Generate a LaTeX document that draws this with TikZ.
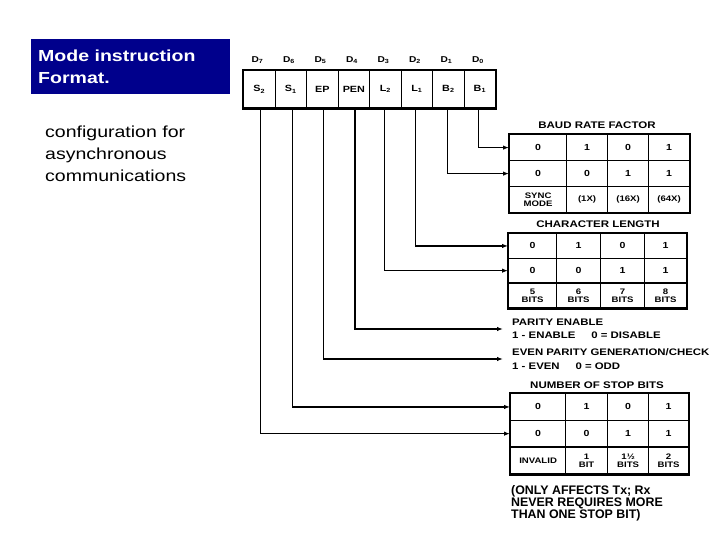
\documentclass[tikz,border=0pt]{standalone}
\usepackage{fontspec}
\setmainfont{Liberation Sans}
\newfontfamily\tabfont[FakeStretch=1.2]{Liberation Sans}
\newfontfamily\widefont[FakeStretch=1.22]{Liberation Sans}
\usetikzlibrary{arrows.meta}
\definecolor{navybox}{RGB}{0,0,140}
\begin{document}
\begin{tikzpicture}[x=1pt,y=-1pt,
  cell/.style={draw, line width=1.2pt, inner sep=0pt, anchor=north west, align=center,
    font=\tabfont\bfseries\fontsize{8.8}{9}\selectfont},
  lastrow/.style={font=\tabfont\bfseries\fontsize{8}{8}\selectfont},
  ttl/.style={font=\tabfont\bfseries\fontsize{9.6}{10}\selectfont, inner sep=0pt},
  conn/.style={line width=1.3pt, -{Latex[length=6pt,width=4.5pt]}},
  regcell/.style={draw, line width=1.2pt, minimum width=31.5pt, minimum height=37.5pt,
    inner sep=0pt, anchor=north west, font=\tabfont\bfseries\fontsize{9}{9}\selectfont},
  dlab/.style={font=\tabfont\bfseries\fontsize{8.5}{8.5}\selectfont, inner sep=0pt},
  border/.style={line width=2.5pt},
  desc/.style={font=\tabfont\bfseries\fontsize{9.5}{13.5}\selectfont, align=left,
    inner xsep=9pt, inner ysep=0pt, anchor=west},
  note/.style={font=\bfseries\fontsize{12.4}{12.4}\selectfont, inner sep=0pt, anchor=base west},
  sub/.style={font=\widefont\fontsize{16}{16}\selectfont, inner sep=0pt, anchor=base west},
  head/.style={font=\widefont\bfseries\fontsize{16}{16}\selectfont, text=white, inner sep=0pt, anchor=base west}]
\useasboundingbox (0,0) rectangle (720,540);

% title box and left text
\node[fill=navybox, minimum width=199pt, minimum height=55pt, anchor=north west, inner sep=0pt] (titlebox) at (31,39) {};
\node[head] (t1) at (38,61.5) {Mode instruction};
\node[head] (t2) at (38,84) {Format.};
\node[sub] (s1) at (45,138) {configuration for};
\node[sub] (s2) at (45,160) {asynchronous};
\node[sub] (s3) at (45,182) {communications};

% register
\foreach \lab/\nm [count=\i from 0] in {S\textsubscript{2}/r7, S\textsubscript{1}/r6, EP/r5, PEN/r4, L\textsubscript{2}/r3, L\textsubscript{1}/r2, B\textsubscript{2}/r1, B\textsubscript{1}/r0}
  \node[regcell] (\nm) at ({243+31.5*\i},70) {\lab};
\draw[line width=2.2pt] (r7.north west) rectangle (r0.south east);
\foreach \k [count=\i from 0] in {7,6,5,4,3,2,1,0}
  \node[dlab] (d\k) at ({257.5+31.5*\i},60) {D\textsubscript{\k}};

% baud rate factor table
\node[ttl] (tbaud) at (597,125) {BAUD RATE FACTOR};
\foreach \c/\x/\w/\t in {1/509/57/0, 2/566/41/1, 3/607/41/0, 4/648/41/1}
  \node[cell, minimum width=\w, minimum height=26] (ba\c) at (\x,134) {\t};
\foreach \c/\x/\w/\t in {1/509/57/0, 2/566/41/0, 3/607/41/1, 4/648/41/1}
  \node[cell, minimum width=\w, minimum height=26] (bb\c) at (\x,160) {\t};
\foreach \c/\x/\w/\t in {1/509/57/{SYNC\\MODE}, 2/566/41/(1X), 3/607/41/(16X), 4/648/41/(64X)}
  \node[cell, lastrow, minimum width=\w, minimum height=26] (bc\c) at (\x,186) {\t};
\draw[border] (ba1.north west) rectangle (bc4.south east);

% character length table
\node[ttl] (tchar) at (598,224) {CHARACTER LENGTH};
\foreach \c/\x/\w/\t in {1/508/48/0, 2/556/44/1, 3/600/44/0, 4/644/42/1}
  \node[cell, minimum width=\w, minimum height=24.7] (ca\c) at (\x,233) {\t};
\foreach \c/\x/\w/\t in {1/508/48/0, 2/556/44/0, 3/600/44/1, 4/644/42/1}
  \node[cell, minimum width=\w, minimum height=24.7] (cb\c) at (\x,257.7) {\t};
\foreach \c/\x/\w/\t in {1/508/48/{5\\BITS}, 2/556/44/{6\\BITS}, 3/600/44/{7\\BITS}, 4/644/42/{8\\BITS}}
  \node[cell, lastrow, minimum width=\w, minimum height=24.7] (cc\c) at (\x,282.4) {\t};
\draw[border] (ca1.north west) rectangle (cc4.south east);

% parity texts
\node[desc] (pen) at (503,329) {PARITY ENABLE\\1 - ENABLE\quad\ \ 0 = DISABLE};
\node[desc] (evp) at (503,359) {EVEN PARITY GENERATION/CHECK\\1 - EVEN\quad\ \ 0 = ODD};

% stop bits table
\node[ttl] (tstop) at (597,385.5) {NUMBER OF STOP BITS};
\foreach \c/\x/\w/\t in {1/510/55/0, 2/565/42/1, 3/607/41/0, 4/648/40/1}
  \node[cell, minimum width=\w, minimum height=26.7] (sa\c) at (\x,393) {\t};
\foreach \c/\x/\w/\t in {1/510/55/0, 2/565/42/0, 3/607/41/1, 4/648/40/1}
  \node[cell, minimum width=\w, minimum height=26.7] (sb\c) at (\x,419.7) {\t};
\foreach \c/\x/\w/\t in {1/510/55/INVALID, 2/565/42/{1\\BIT}, 3/607/41/{1½\\BITS}, 4/648/40/{2\\BITS}}
  \node[cell, lastrow, minimum width=\w, minimum height=26.7] (sc\c) at (\x,446.4) {\t};
\draw[border] (sa1.north west) rectangle (sc4.south east);

\node[note] (n1) at (511,494) {(ONLY AFFECTS Tx; Rx};
\node[note] (n2) at (511,506) {NEVER REQUIRES MORE};
\node[note] (n3) at (511,518) {THAN ONE STOP BIT)};

% connectors
\draw[conn] ([xshift=-1.5pt]r0.south) |- (ba1.west);
\draw[conn] ([xshift=-1pt]r1.south) |- (bb1.west);
\draw[conn] ([xshift=-1.5pt]r2.south) |- (ca1.west);
\draw[conn] ([xshift=-1pt]r3.south) |- (cb1.west);
\draw[conn] ([xshift=1pt]r4.south) |- (pen.west);
\draw[conn] ([xshift=1pt]r5.south) |- (evp.west);
\draw[conn] ([xshift=1.5pt]r6.south) |- (sa1.west);
\draw[conn] ([xshift=1pt]r7.south) |- (sb1.west);
\end{tikzpicture}
\end{document}
